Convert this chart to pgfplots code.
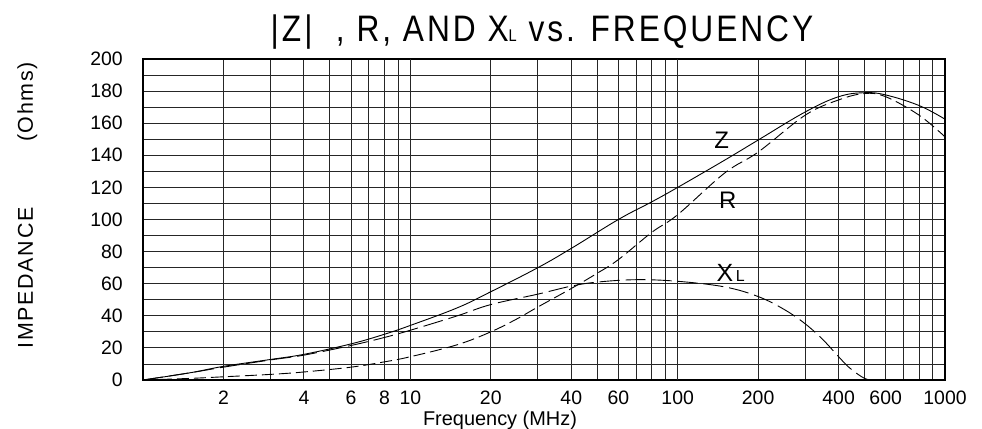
\documentclass[border=0pt]{standalone}
\usepackage{pgfplots}
\pgfplotsset{compat=1.18}
\usepackage{fontspec}
\setmainfont{Liberation Sans}
\newfontfamily\titlefont[FakeStretch=0.86,LetterSpace=8]{Liberation Sans}
\newfontfamily\ylabfont[LetterSpace=8]{Liberation Sans}

\begin{document}
\begin{tikzpicture}
\begin{axis}[
    at={(0,0)}, anchor=south west,
    scale only axis, width=802bp, height=321bp,
    xmode=log, log basis x=10,
    xmin=1, xmax=1000, ymin=0, ymax=200,
    xtick={2,4,6,8,10,20,40,60,100,200,400,600,1000},
    xticklabels={2,4,6,8,10,20,40,60,100,200,400,600,1000},
    minor xtick={3,5,7,9,30,50,70,80,90,300,500,700,800,900},
    extra x ticks={10,100}, extra x tick labels={},
    extra x tick style={grid style={black, line width=2.2bp}},
    ytick={0,20,...,200},
    minor ytick={10,30,...,190},
    grid=both,
    major grid style={black!85, line width=0.9bp},
    minor grid style={black!85, line width=0.9bp},
    major tick length=0pt, minor tick length=0pt,
    axis line style={line width=1.6bp},
    /pgf/number format/assume math mode=true,
    tick label style={font=\fontsize{19.5}{20}\selectfont},
    xticklabel style={anchor=base, yshift=-24bp},
    yticklabel style={anchor=east, inner sep=0pt, xshift=-20bp},
]
% |Z|
\addplot[black, no marks, line width=0.9bp, smooth, tension=0.65] coordinates {
  (1,0) (1.5,4.5) (2,8.5) (3,12.8) (4,16) (6,22.5) (8,28.5) (10,34)
  (15,45) (20,55) (30,70) (40,82) (60,100) (80,111) (100,120)
  (150,137) (200,149.5) (300,167) (400,176.5) (500,179) (600,177.6)
  (800,171) (1000,162.5)};
% R
\addplot[black, no marks, line width=0.9bp, smooth, tension=0.6, dash pattern=on 12bp off 5bp] coordinates {
  (1,0) (1.5,1) (2,2) (3,3.5) (4,5) (6,8) (8,11.3) (10,14.5)
  (15,22) (20,30) (25,38) (30,45.5) (40,57) (50,66.5) (60,75) (80,92) (100,103)
  (150,129) (200,142) (300,165) (400,174.5) (500,178.5) (600,176.5)
  (800,165) (1000,151.5)};
% X_L
\addplot[black, no marks, line width=0.9bp, smooth, tension=0.6, dash pattern=on 20bp off 6bp] coordinates {
  (1,0) (1.5,4.5) (2,8) (3,12.5) (4,15.5) (6,21.5) (8,26.5) (10,31)
  (15,40) (20,47) (30,53.5) (40,58.5) (50,61) (70,62.5) (100,61.5)
  (150,58) (200,52) (250,44) (300,35) (350,25) (400,14.5) (440,7.5)
  (500,1) (540,0)};
\node[font=\fontsize{24}{24}\selectfont] at (axis cs:146,149.5) {Z};
\node[font=\fontsize{24}{24}\selectfont] at (axis cs:154,112) {R};
\node[font=\fontsize{25}{25}\selectfont] at (axis cs:158,66.7) {X{\fontsize{16}{16}\selectfont\,L}};
\end{axis}
\node[anchor=base, font=\titlefont\fontsize{37}{40}\selectfont] at (399bp,338bp)
  {|Z|\ \ , R, AND X{\fontsize{17}{17}\selectfont L} vs. FREQUENCY};
\node[anchor=base, font=\fontsize{20}{22}\selectfont] at (357bp,-45bp) {Frequency (MHz)};
\node[anchor=base, rotate=90, font=\ylabfont\fontsize{21.5}{22}\selectfont] at (-110bp,102bp) {IMPEDANCE};
\node[anchor=base, rotate=90, font=\ylabfont\fontsize{21.5}{22}\selectfont] at (-110bp,278bp) {(Ohms)};
\pgfresetboundingbox
\path (-143bp,-49bp) rectangle (839bp,380bp);
\end{tikzpicture}
\end{document}
